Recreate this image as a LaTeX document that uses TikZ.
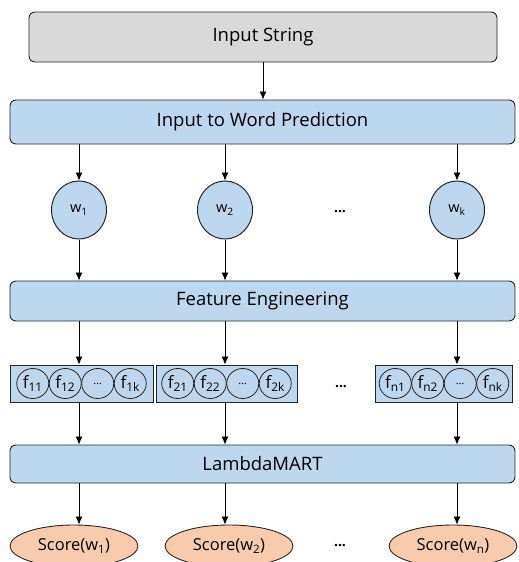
\documentclass[tikz,border=0pt]{standalone}
\usepackage{fontspec}
\setmainfont{Open Sans}
\usetikzlibrary{positioning,shapes.geometric,arrows.meta}
\definecolor{boxblue}{HTML}{BDD7EE}
\definecolor{inputgray}{HTML}{D9D9D9}
\definecolor{scoreorange}{HTML}{F8CBAD}
\tikzset{%
  every box/.style={
    rectangle,
    draw=black!85,
    line width=0.9pt,
    rounded corners=6pt,
    fill=boxblue,
    minimum width=505pt,
    font=\fontsize{18.5}{22}\selectfont
  },
  word node/.style={
    ellipse,
    draw=black!85,
    line width=1pt,
    fill=boxblue,
    minimum width=55pt,
    minimum height=58pt,
    inner sep=0pt,
    font=\fontsize{14.5}{17}\selectfont
  },
  feature group/.style={
    rectangle,
    draw=black!85,
    line width=1pt,
    fill=boxblue,
    minimum height=37pt
  },
  feature node/.style={
    ellipse,
    draw=black!85,
    line width=0.8pt,
    minimum width=32pt,
    minimum height=30pt,
    inner sep=0pt,
    font=\fontsize{17}{20}\selectfont
  },
  score node/.style={
    ellipse,
    draw=black!85,
    line width=0.9pt,
    fill=scoreorange,
    minimum width=128pt,
    minimum height=42pt,
    font=\fontsize{16.5}{19}\selectfont
  },
  dots/.style={font=\fontsize{14}{16}\selectfont\bfseries},
}

\begin{document}
\begin{tikzpicture}[>={Latex[length=8pt,width=7pt]}, x=1pt, y=-1pt, line width=0.8pt]
\useasboundingbox (0,0) rectangle (519,562);
% boxes across the whole width
\node[every box, fill=inputgray, minimum width=468pt, minimum height=50pt] (input) at (263,37) {Input String};
\node[every box, minimum height=44pt] (pred) at (262.5,122) {Input to Word Prediction};
\node[every box, minimum height=40pt] (fe) at (262.5,301) {Feature Engineering};
\node[every box, minimum height=38pt] (lm) at (262.5,464) {LambdaMART};
\draw[->] (input) -- (input |- pred.north);
% one column per candidate word
\foreach \i/\wx/\gx/\gw/\sx/\lab/\sub in {1/79/81.5/143/74/1/1, 2/225/226.5/141/229/2/2, 3/457/444/137/453/n/k}
    {\node[word node] (w\i) at (\wx,210) {w\textsubscript{\sub}};
    \node[feature group, minimum width=\gw pt] (g\i) at (\gx,383.5) {};
    \node[feature node] (f\i_1) at (\gx-48.75,383.5) {f\textsubscript{\lab 1}};
    \node[feature node] (f\i_2) at (\gx-16.25,383.5) {f\textsubscript{\lab 2}};
    \node[feature node, font=\fontsize{11}{13}\selectfont] (f\i_3) at (\gx+16.25,383.5) {\dots};
    \node[feature node] (f\i_4) at (\gx+48.75,383.5) {f\textsubscript{\lab k}};
    \node[score node] (s\i) at (\sx,546) {Score(w\textsubscript{\lab})};
    \draw[->] (pred.south -| w\i) -- (w\i);
    \draw[->] (w\i) -- (fe.north -| w\i);
    \draw[->] (fe.south -| w\i) -- (g\i.north -| w\i);
    \draw[->] (g\i.south -| w\i) -- (lm.north -| w\i);
    \draw[->] (lm.south -| w\i) -- (w\i |- s\i.north);}
% gaps between the columns
\node[dots] (dots_w) at (340,212) {...};
\node[dots] (dots_f) at (341,387) {...};
\node[dots] (dots_s) at (340,546) {...};
\end{tikzpicture}
\end{document}
